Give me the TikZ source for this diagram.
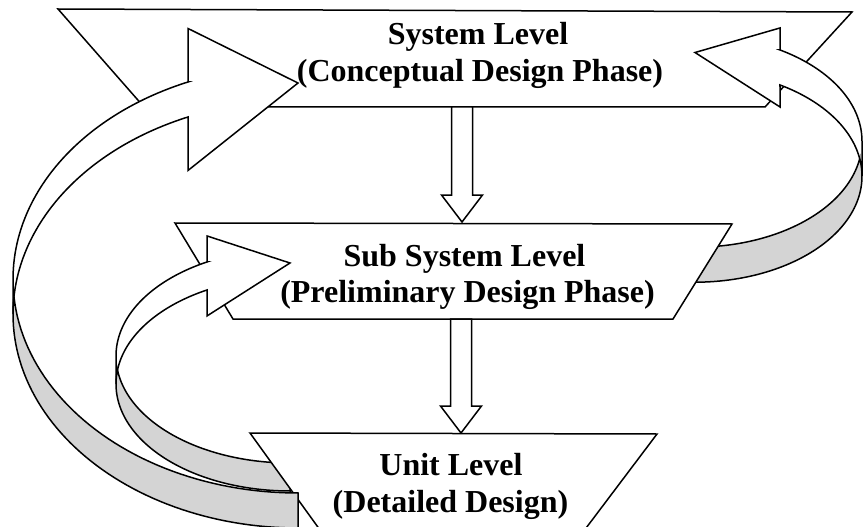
\documentclass[tikz,border=0pt]{standalone}
\usepackage{fontspec}
\setmainfont{Liberation Serif}
\usetikzlibrary{calc}

\tikzset{
  shapeline/.style={draw=black, line width=1.5pt, fill=white, line join=miter},
  underside/.style={shapeline, fill=black!17},
  leveltext/.style={font=\bfseries\fontsize{32}{38}\selectfont, anchor=base, inner sep=0pt},
}

% Curved block arrow drawn as a twisted ribbon between two equal ellipses.
% #1 x of ellipse centres / arrow tip, #2 side (+1 ribbon bends left, -1 right),
% #3 horizontal radius, #4 vertical radius, #5 y of lower ellipse centre,
% #6 ribbon thickness, #7 head length, #8 head overhang, #9 y of tip
\newcommand\curvedband[9]{%
  \pgfmathsetmacro\cbA{acos(#7/#3)}%
  \pgfmathsetmacro\cbB{asin(#6/(2*#4))}%
  \pgfmathsetmacro\cbE{90-\cbB}%
  \pgfmathsetmacro\cbF{90+\cbB}%
  \pgfmathsetmacro\cbDy{#4*sin(\cbA)}%
  \pgfmathsetmacro\cbX{#1-(#2)*#7}%
  \pgfmathsetmacro\cbUp{#5-#6}%
  \pgfmathsetmacro\cbL{#1-(#2)*#3}%
  \pgfmathsetmacro\cbIx{#1-(#2)*#3*cos(\cbB)}%
  % front face with the arrow head
  \draw[shapeline] (\cbL,#5)
    -- plot[domain=0:\cbA, samples=50] ({#1+(#2)*#3*cos(180+\x)}, {#5+#4*sin(180+\x)})
    -- (\cbX,{#5-\cbDy+#8}) -- (#1,#9) -- (\cbX,{\cbUp-\cbDy-#8}) -- (\cbX,{\cbUp-\cbDy})
    -- plot[domain=0:\cbA, samples=50] ({#1+(#2)*#3*cos(180+\cbA-\x)}, {\cbUp+#4*sin(180+\cbA-\x)})
    -- cycle;
  % shaded underside of the ribbon
  \draw[underside] (\cbIx,{#5-#6/2})
    -- plot[domain=0:\cbE, samples=50] ({#1+(#2)*#3*cos(180-\cbB-\x)}, {\cbUp+#4*sin(180-\cbB-\x)})
    -- (#1,{#5+#4})
    -- plot[domain=0:\cbF, samples=60] ({#1+(#2)*#3*cos(90+\x)}, {#5+#4*sin(90+\x)})
    -- cycle;
}

% Straight block arrow pointing down from #1 to the tip #2
\newcommand\blockdown[2]{%
  \draw[shapeline] ($(#1)+(-10.5,0)$) -- ($(#2)+(-10.5,-27)$) -- ($(#2)+(-20.5,-27)$)
    -- (#2) -- ($(#2)+(20.5,-27)$) -- ($(#2)+(10.5,-27)$) -- ($(#1)+(10.5,0)$) -- cycle;
}

\begin{document}
\begin{tikzpicture}[x=1pt, y=-1pt]
\useasboundingbox (0,0) rectangle (863,527);
\fill[white] (0,0) rectangle (863,527);
\clip (0,0) rectangle (863,527);

% level outlines
\coordinate (sysA) at (58,9);
\coordinate (sysB) at (852,12);
\coordinate (sysC) at (765,107);
\coordinate (sysD) at (144,107);
\coordinate (subA) at (175,223);
\coordinate (subB) at (732,224);
\coordinate (subC) at (673,319);
\coordinate (subD) at (233,319);
\coordinate (unitA) at (250,433);
\coordinate (unitB) at (657,434);
\coordinate (unitC) at (571,548);
\coordinate (unitD) at (333,548);

\draw[shapeline] (sysA) -- (sysB) -- (sysC) -- (sysD) -- cycle;
% feedback from sub system level to system level
\curvedband{695}{-1}{167}{106}{176.2}{35}{85}{22}{52.5}
\draw[shapeline] (subA) -- (subB) -- (subC) -- (subD) -- cycle;
% feedback from unit level to sub system level
\curvedband{290}{1}{174}{107}{384}{28}{83}{26}{263}
\draw[shapeline] (unitA) -- (unitB) -- (unitC) -- (unitD) -- cycle;
% feedback from unit level to system level
\curvedband{298}{1}{285}{213.8}{314.2}{35}{110}{53.5}{83}

% flow down between levels
\coordinate (v1a) at (462,107);
\coordinate (v1b) at (462,222);
\coordinate (v2a) at (461,319);
\coordinate (v2b) at (461,433);
\blockdown{v1a}{v1b}
\blockdown{v2a}{v2b}

\node[leveltext] (sys) at (478,45) {System Level};
\node[leveltext] (sysph) at (480,82) {(Conceptual Design Phase)};
\node[leveltext] (sub) at (464.5,266) {Sub System Level};
\node[leveltext] (subph) at (467.5,302) {(Preliminary Design Phase)};
\node[leveltext] (unit) at (451,475) {Unit Level};
\node[leveltext] (unitph) at (450.5,512) {(Detailed Design)};
\end{tikzpicture}
\end{document}
